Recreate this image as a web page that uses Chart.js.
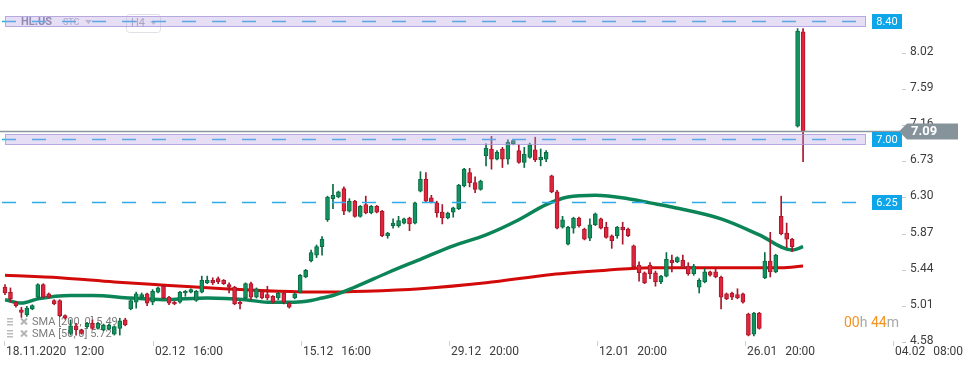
<!DOCTYPE html>
<html>
<head>
<meta charset="utf-8">
<script src="https://cdn.jsdelivr.net/npm/chart.js@4.4.1/dist/chart.umd.min.js"></script>
<style>
  html, body { margin: 0; padding: 0; background: #fff; }
  #wrap { width: 970px; height: 368px; }
</style>
</head>
<body>
<div id="wrap"><canvas id="chart" width="970" height="368"></canvas></div>
<script>
// HL.US, H4 candles (index 0 = 18.11.2020 12:00)
const opens = [5.24,5.18,5.06,4.97,4.91,4.98,5.12,5.27,5.16,5.08, 5.08,4.90,4.69,4.78,4.73,4.77,4.81,4.75,4.73,4.74,
  4.68,4.75,4.85,4.98,5.06,5.12,5.16,5.06,5.18,5.25, 5.12,5.06,5.06,5.17,5.18,5.08,5.18,5.29,5.32,5.34,
  5.32,5.27,5.24,5.06,5.11,5.28,5.12,5.19,5.15,5.13, 5.11,5.17,5.05,5.11,5.18,5.36,5.55,5.62,5.72,6.04,
  6.29,6.31,6.41,6.14,6.26,6.08,6.22,6.12,6.20,6.14, 5.85,5.97,5.97,6.00,6.06,6.00,6.38,6.52,6.30,6.24,
  6.13,6.06,6.13,6.17,6.44,6.60,6.48,6.40,6.80,6.88, 6.76,6.88,6.76,6.94,6.86,6.72,6.78,6.87,6.75,6.76,
  6.56,6.37,5.95,5.75,5.94,6.06,5.93,5.82,5.98,6.05, 5.95,5.85,5.85,5.95,5.93,5.73,5.50,5.41,5.50,5.41,
  5.30,5.37,5.56,5.54,5.56,5.49,5.40,5.24,5.30,5.42, 5.42,5.36,5.16,5.17,5.15,5.16,4.92,4.68,4.93,5.35,
  5.55,5.42,6.08,5.88,5.81,7.15,8.27];
const highs = [5.27,5.23,5.07,5.00,5.01,5.03,5.28,5.28,5.17,5.09, 5.09,4.91,4.85,4.81,4.74,4.82,4.85,4.82,4.80,4.80,
  4.78,4.87,4.87,5.09,5.18,5.17,5.17,5.21,5.24,5.26, 5.13,5.07,5.19,5.20,5.22,5.20,5.37,5.37,5.35,5.36,
  5.33,5.29,5.25,5.07,5.29,5.30,5.23,5.20,5.25,5.14, 5.18,5.18,5.06,5.17,5.39,5.45,5.68,5.74,5.84,6.32,
  6.46,6.38,6.43,6.29,6.27,6.21,6.32,6.21,6.21,6.15, 5.89,6.05,6.08,6.06,6.07,6.25,6.61,6.60,6.33,6.26,
  6.22,6.13,6.19,6.46,6.65,6.65,6.55,6.51,6.94,7.03, 6.86,6.90,6.99,6.99,6.93,6.90,6.95,7.02,6.88,6.86,
  6.57,6.39,6.08,5.96,6.07,6.07,5.94,6.05,6.12,6.06, 6.01,5.86,5.96,6.01,5.94,5.74,5.54,5.42,5.53,5.43,
  5.38,5.65,5.62,5.60,5.62,5.53,5.51,5.34,5.46,5.43, 5.46,5.37,5.17,5.18,5.22,5.17,4.93,4.94,4.94,5.65,
  5.89,5.63,6.32,6.00,5.82,8.31,8.31];
const lows = [5.15,5.06,5.00,4.88,4.89,4.97,5.10,5.11,5.11,5.03, 4.89,4.86,4.67,4.67,4.68,4.75,4.74,4.74,4.72,4.73,
  4.67,4.67,4.78,4.97,4.99,5.10,5.02,5.03,5.17,5.10, 5.03,5.03,5.05,5.13,5.17,5.07,5.17,5.28,5.27,5.28,
  5.27,5.17,5.03,4.98,5.10,5.09,5.11,5.10,5.09,5.05, 5.09,5.04,4.99,5.10,5.17,5.35,5.54,5.59,5.62,6.02,
  6.17,6.30,6.10,6.13,6.07,6.07,6.11,6.11,6.12,5.84, 5.82,5.94,5.95,5.99,5.91,5.99,6.37,6.25,6.24,6.07,
  5.99,6.05,6.07,6.16,6.43,6.43,6.36,6.39,6.68,6.64, 6.75,6.66,6.70,6.93,6.71,6.66,6.77,6.73,6.68,6.73,
  6.36,5.93,5.94,5.74,5.88,5.95,5.80,5.79,5.97,5.93, 5.82,5.70,5.82,5.75,5.84,5.47,5.31,5.28,5.34,5.25,
  5.28,5.36,5.42,5.53,5.46,5.38,5.38,5.17,5.29,5.37, 5.35,4.98,5.09,5.09,5.10,5.05,4.66,4.66,4.74,5.34,
  5.36,5.41,5.86,5.71,5.66,7.14,6.73];
const closes = [5.17,5.10,5.02,4.94,4.99,5.02,5.27,5.12,5.12,5.04, 4.90,4.87,4.78,4.73,4.69,4.81,4.75,4.81,4.79,4.79,
  4.77,4.84,4.79,5.08,5.16,5.15,5.05,5.19,5.23,5.11, 5.05,5.04,5.18,5.19,5.21,5.19,5.32,5.32,5.29,5.30,
  5.28,5.24,5.04,5.04,5.28,5.12,5.22,5.11,5.11,5.06, 5.17,5.06,5.00,5.16,5.38,5.44,5.65,5.72,5.81,6.31,
  6.33,6.37,6.14,6.26,6.08,6.20,6.12,6.20,6.13,5.85, 5.88,6.00,6.03,6.05,5.99,6.24,6.52,6.26,6.25,6.12,
  6.06,6.12,6.18,6.45,6.64,6.48,6.40,6.50,6.89,6.76, 6.84,6.76,6.96,6.98,6.72,6.82,6.93,6.75,6.78,6.84,
  6.37,5.94,6.04,5.95,6.06,5.97,5.81,5.98,6.11,5.94, 5.83,5.79,5.95,5.92,5.85,5.48,5.41,5.29,5.40,5.30,
  5.37,5.57,5.53,5.59,5.47,5.40,5.49,5.32,5.42,5.38, 5.36,5.12,5.10,5.12,5.11,5.06,4.67,4.93,4.75,5.55,
  5.42,5.62,5.87,5.81,5.72,8.28,7.09];

// moving averages (candle index -> value)
const sma200Idx = [0, 10, 20, 30, 40, 50, 58, 66, 76, 88, 100, 110, 118, 130, 142, 146];
const sma200Val = [5.38, 5.35, 5.30, 5.26, 5.22, 5.19, 5.18, 5.19, 5.22, 5.29, 5.39, 5.44, 5.47, 5.47, 5.47, 5.49];
const sma50Idx = [0, 3, 6, 12, 16, 23, 29, 37, 44, 48, 53, 56, 58, 60, 64, 70, 76, 82, 88, 94, 99, 103, 108, 114, 118, 122, 131, 138, 144, 146];
const sma50Val = [5.09, 5.05, 5.10, 5.14, 5.14, 5.11, 5.09, 5.11, 5.09, 5.06, 5.06, 5.08, 5.11, 5.14, 5.24, 5.41, 5.57, 5.73, 5.86, 6.04, 6.22, 6.31, 6.33, 6.29, 6.24, 6.19, 6.05, 5.86, 5.68, 5.72];

const yTicks = [4.58, 5.01, 5.44, 5.87, 6.30, 6.73, 7.16, 7.59, 8.02];
const xTickPos = [-0.2, 27, 54.15, 81.25, 108.3, 135.4, 162.4];
const xTickDates = ['18.11.2020', '02.12', '15.12', '29.12', '12.01', '26.01', '04.02'];
const xTickTimes = ['12:00', '16:00', '16:00', '20:00', '20:00', '20:00', '08:00'];

const levels = [8.40, 7.00, 6.25];
const bandLevels = [8.40, 7.00];
const lastPrice = 7.09;
const smaLegend = ['SMA [200, 0] 5.49', 'SMA [50, 0] 5.72'];

const GREEN = '#12925f', GREEN_DARK = '#0a6c44';
const RED = '#e0243c', RED_DARK = '#a8172b';

const up = opens.map((o, i) => closes[i] >= o);
const wickData = opens.map((o, i) => ({ x: i, y: [lows[i], highs[i]] }));
const bodyData = opens.map((o, i) => ({ x: i, y: [o, closes[i]] }));

function drawHeader(ctx) {
  ctx.textBaseline = 'middle';
  ctx.font = 'bold 11px Roboto';
  ctx.fillStyle = '#80809a';
  ctx.fillText('HL.US', 21, 22);
  ctx.font = '9px Roboto';
  ctx.fillStyle = '#aeaebc';
  ctx.fillText('STC', 63, 23);
  ctx.fillStyle = '#bdbdc8';
  ctx.beginPath(); ctx.moveTo(85, 20); ctx.lineTo(92, 20); ctx.lineTo(88.5, 24); ctx.closePath(); ctx.fill();
  ctx.strokeStyle = '#e0e0e6';
  ctx.lineWidth = 1;
  ctx.beginPath(); ctx.roundRect(126.5, 14.5, 34, 18, 3); ctx.stroke();
  ctx.font = '11px Roboto';
  ctx.fillStyle = '#a4a4b2';
  ctx.fillText('H4', 131, 23);
  ctx.fillStyle = '#c4c4ce';
  ctx.beginPath(); ctx.moveTo(150, 21); ctx.lineTo(157, 21); ctx.lineTo(153.5, 25); ctx.closePath(); ctx.fill();
}

function drawSmaLegend(ctx) {
  smaLegend.forEach((txt, k) => {
    const y = 322 + k * 12;
    ctx.fillStyle = '#bcbcbc';
    ctx.fillRect(7, y - 4, 6, 1.5);
    ctx.fillRect(7, y - 1, 6, 1.5);
    ctx.fillRect(7, y + 2, 6, 1.5);
    ctx.strokeStyle = '#b4b4b4';
    ctx.lineWidth = 2;
    ctx.beginPath();
    ctx.moveTo(21, y - 3.5); ctx.lineTo(27, y + 2.5);
    ctx.moveTo(27, y - 3.5); ctx.lineTo(21, y + 2.5);
    ctx.stroke();
    ctx.font = '11px Roboto';
    ctx.fillStyle = '#7c7c7c';
    ctx.textBaseline = 'middle';
    ctx.fillText(txt, 32, y);
  });
}

function drawCountdown(ctx) {
  const parts = [['00', '#f7931e'], ['h ', '#a8a8a8'], ['44', '#f7931e'], ['m', '#a8a8a8']];
  ctx.font = '14px Roboto';
  ctx.textBaseline = 'middle';
  let x = 844;
  parts.forEach(([t, c]) => {
    ctx.fillStyle = c;
    ctx.fillText(t, x, 323);
    x += ctx.measureText(t).width;
  });
}

const overlay = {
  id: 'overlay',
  beforeDatasetsDraw(chart) {
    const ctx = chart.ctx;
    ctx.save();
    drawHeader(ctx);
    drawSmaLegend(ctx);
    drawCountdown(ctx);
    ctx.restore();
  },
  afterDatasetsDraw(chart) {
    const ctx = chart.ctx;
    const ys = chart.scales.y;
    ctx.save();
    // dashed levels
    ctx.setLineDash([14, 16]);
    ctx.lineWidth = 1.5;
    ctx.strokeStyle = '#2eaae8';
    levels.forEach(v => {
      const y = Math.round(ys.getPixelForValue(v)) + 0.5;
      ctx.beginPath(); ctx.moveTo(2, y); ctx.lineTo(866, y); ctx.stroke();
    });
    ctx.setLineDash([]);
    // lavender bands
    bandLevels.forEach(v => {
      const y = Math.round(ys.getPixelForValue(v));
      ctx.fillStyle = 'rgba(180,160,225,0.35)';
      ctx.fillRect(5, y - 5, 861, 11);
      ctx.strokeStyle = 'rgba(165,145,215,0.7)';
      ctx.lineWidth = 1;
      ctx.strokeRect(5.5, y - 4.5, 860, 10);
    });
    // last price line
    const yp = Math.round(ys.getPixelForValue(lastPrice)) + 0.5;
    ctx.strokeStyle = '#8a979d';
    ctx.lineWidth = 1.5;
    ctx.beginPath(); ctx.moveTo(0, yp); ctx.lineTo(900, yp); ctx.stroke();
    // level boxes
    ctx.font = '11px Roboto';
    ctx.textAlign = 'center';
    ctx.textBaseline = 'middle';
    levels.forEach(v => {
      const y = Math.round(ys.getPixelForValue(v));
      ctx.fillStyle = '#0ea5e9';
      ctx.fillRect(872, y - 7, 30, 15);
      ctx.fillStyle = '#fff';
      ctx.fillText(v.toFixed(2), 887, y + 1);
    });
    ctx.restore();
  },
  afterDraw(chart) {
    const ctx = chart.ctx;
    const ys = chart.scales.y, xs = chart.scales.x;
    ctx.save();
    // last price badge
    const yp = Math.round(ys.getPixelForValue(lastPrice)) + 0.5;
    ctx.fillStyle = '#87939a';
    ctx.beginPath();
    ctx.moveTo(899, yp);
    ctx.lineTo(907, yp - 8);
    ctx.lineTo(958, yp - 8);
    ctx.lineTo(958, yp + 8);
    ctx.lineTo(907, yp + 8);
    ctx.closePath();
    ctx.fill();
    ctx.font = 'bold 13px Roboto';
    ctx.fillStyle = '#fff';
    ctx.textBaseline = 'middle';
    ctx.fillText(lastPrice.toFixed(2), 911, yp + 0.5);
    // x axis labels
    ctx.font = '12px Roboto';
    ctx.fillStyle = '#3c3c3c';
    ctx.strokeStyle = '#cfcfcf';
    ctx.lineWidth = 1;
    xTickPos.forEach((p, k) => {
      const px = Math.round(xs.getPixelForValue(p)) + 0.5;
      ctx.beginPath(); ctx.moveTo(px, 341); ctx.lineTo(px, 346); ctx.stroke();
      ctx.fillText(xTickDates[k], px + 1.5, 352);
      const w = ctx.measureText(xTickDates[k]).width;
      ctx.fillText(xTickTimes[k], px + 1.5 + w + 8, 352);
    });
    ctx.restore();
  }
};

new Chart(document.getElementById('chart'), {
  type: 'bar',
  data: {
    datasets: [
      {
        type: 'line',
        data: sma200Idx.map((x, k) => ({ x, y: sma200Val[k] })),
        borderColor: '#d20a0a',
        borderWidth: 3,
        pointRadius: 0,
        cubicInterpolationMode: 'monotone',
        order: 3
      },
      {
        type: 'line',
        data: sma50Idx.map((x, k) => ({ x, y: sma50Val[k] })),
        borderColor: '#0b8457',
        borderWidth: 3.5,
        pointRadius: 0,
        cubicInterpolationMode: 'monotone',
        order: 2
      },
      {
        data: wickData,
        backgroundColor: up.map(u => u ? GREEN_DARK : RED_DARK),
        barThickness: 1,
        grouped: false,
        order: 1
      },
      {
        data: bodyData,
        backgroundColor: up.map(u => u ? GREEN : RED),
        borderColor: up.map(u => u ? GREEN_DARK : RED_DARK),
        borderWidth: 1,
        borderSkipped: false,
        barThickness: 4,
        minBarLength: 1,
        grouped: false,
        order: 0
      }
    ]
  },
  options: {
    responsive: false,
    animation: false,
    devicePixelRatio: 1,
    layout: { padding: { top: 0, bottom: 23, left: 0, right: 0 } },
    plugins: { legend: { display: false }, tooltip: { enabled: false } },
    scales: {
      x: { type: 'linear', display: false, min: -0.915, max: 164.1, offset: false },
      y: {
        position: 'right',
        min: 4.552,
        max: 8.6495,
        afterBuildTicks: s => { s.ticks = yTicks.map(v => ({ value: v })); },
        afterFit: s => { s.width = 68; s.paddingTop = 0; s.paddingBottom = 0; },
        grid: { drawOnChartArea: false, drawTicks: true, tickLength: 4, color: '#c8c8c8' },
        border: { display: false },
        ticks: {
          autoSkip: false,
          padding: 4,
          labelOffset: -1.5,
          color: '#3c3c3c',
          font: { family: 'Roboto', size: 12 },
          callback: v => Number(v).toFixed(2)
        }
      }
    }
  },
  plugins: [overlay]
});
</script>
</body>
</html>
